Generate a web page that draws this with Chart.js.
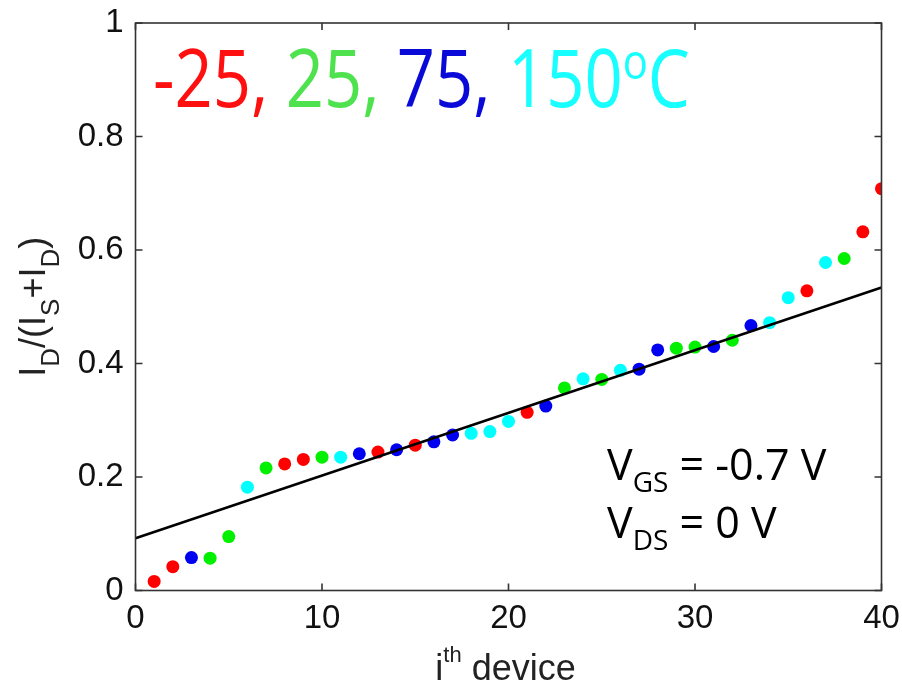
<!DOCTYPE html>
<html><head><meta charset="utf-8">
<script src="https://cdn.jsdelivr.net/npm/chart.js@4/dist/chart.umd.min.js"></script>
<style>html,body{margin:0;padding:0;background:#fff;}#wrap{width:902px;height:684px;position:relative;}</style>
</head><body><div id="wrap"><canvas id="c"></canvas></div>
<script>
// ---- data ----
const deviceIndex = [1,2,3,4,5,6,7,8,9,10,11,12,13,14,15,16,17,18,19,20,21,22,23,24,25,26,27,28,29,30,31,32,33,34,35,36,37,38,39,40];
const ratioValues = [0.016,0.042,0.058,0.057,0.095,0.182,0.216,0.223,0.231,0.235,0.235,0.241,0.244,0.248,0.256,0.262,0.274,0.277,0.280,0.298,0.314,0.325,0.357,0.373,0.372,0.388,0.390,0.424,0.427,0.429,0.430,0.441,0.467,0.472,0.516,0.528,0.578,0.585,0.632,0.708];
const tempGroup = ['-25','-25','75','25','25','150','25','-25','-25','25','150','75','-25','75','-25','75','75','150','150','150','-25','75','25','150','25','150','75','75','25','25','75','25','75','150','150','-25','150','25','-25','-25'];
const temperatures = ['-25','25','75','150'];
const fitX = [0, 40];
const fitY = [0.092, 0.534];
const xTickValues = [0,10,20,30,40];
const yTickValues = [0,0.2,0.4,0.6,0.8,1];

// ---- styles ----
const dotColors = {'-25':'#ff0000','25':'#00f000','75':'#0000f0','150':'#00ffff'};
const textColors = {'-25':'#ff1010','25':'#4ee24e','75':'#0a0ad8','150':'#18ffff'};

const datasets = temperatures.map(t => ({
  type:'scatter',
  label: t,
  data: deviceIndex.map((d,i)=>({x:d,y:ratioValues[i],g:tempGroup[i]})).filter(p=>p.g===t).map(p=>({x:p.x,y:p.y})),
  backgroundColor: dotColors[t],
  borderColor: dotColors[t],
  borderWidth: 0,
  pointRadius: 6.5,
  order: 2
}));
datasets.push({
  type:'line', label:'fit',
  data: fitX.map((x,i)=>({x:x,y:fitY[i]})),
  borderColor:'#000', borderWidth:2.5, pointRadius:0, fill:false, order:1
});

function rich(ctx, segs, x, y, align, family, scaleX) {
  let w = 0;
  segs.forEach(s=>{ctx.font = s.size+'px '+family; s.w = ctx.measureText(s.t).width; w += s.w;});
  scaleX = scaleX || 1;
  let cx = align==='center' ? x - w*scaleX/2 : x;
  ctx.save();
  ctx.translate(cx, y);
  ctx.scale(scaleX,1);
  let px = 0;
  segs.forEach(s=>{
    ctx.font = s.size+'px '+family;
    ctx.fillStyle = s.color || '#000';
    ctx.textBaseline = 'alphabetic';
    ctx.textAlign = 'left';
    ctx.fillText(s.t, px, s.dy||0);
    px += s.w;
  });
  ctx.restore();
  return w;
}

const decor = {
  id:'decor',
  afterDraw(chart){
    const ctx = chart.ctx, a = chart.chartArea;
    const xs = chart.scales.x, ys = chart.scales.y;
    ctx.save();
    ctx.strokeStyle = '#333'; ctx.lineWidth = 1.6;
    ctx.strokeRect(a.left, a.top, a.right-a.left, a.bottom-a.top);
    ctx.beginPath();
    xTickValues.forEach(v=>{
      const p = xs.getPixelForValue(v);
      ctx.moveTo(p,a.bottom); ctx.lineTo(p,a.bottom-7);
      ctx.moveTo(p,a.top); ctx.lineTo(p,a.top+7);
    });
    yTickValues.forEach(v=>{
      const p = ys.getPixelForValue(v);
      ctx.moveTo(a.left,p); ctx.lineTo(a.left+7,p);
      ctx.moveTo(a.right,p); ctx.lineTo(a.right-7,p);
    });
    ctx.stroke();
    ctx.restore();

    const AX = 'Liberation Sans, Arial, sans-serif';
    ctx.save();
    ctx.translate(45, (a.top+a.bottom)/2);
    ctx.rotate(-Math.PI/2);
    rich(ctx, [
      {t:'I',size:36,color:'#222'},{t:'D',size:26,dy:14,color:'#222'},
      {t:'/(I',size:36,color:'#222'},{t:'S',size:26,dy:14,color:'#222'},
      {t:'+I',size:36,color:'#222'},{t:'D',size:26,dy:14,color:'#222'},
      {t:')',size:36,color:'#222'}
    ], 0, 0, 'center', AX);
    ctx.restore();
    rich(ctx, [
      {t:'i',size:36,color:'#222'},{t:'th',size:22,dy:-18,color:'#222'},
      {t:' device',size:36,color:'#222'}
    ], (a.left+a.right)/2 - 3, 680, 'center', AX);

    const AN = 'Open Sans, sans-serif';
    const tsegs = [
      {t:'-25,',size:80,color:textColors['-25']},
      {t:' 25,',size:80,color:textColors['25']},
      {t:' 75,',size:80,color:textColors['75']},
      {t:' 150',size:80,color:textColors['150']},
      {t:'o',size:50,dy:-28,color:textColors['150']},
      {t:'C',size:80,color:textColors['150']}
    ];
    let w = 0; tsegs.forEach(s=>{ctx.font=s.size+'px '+AN; w+=ctx.measureText(s.t).width;});
    rich(ctx, tsegs, 153, 107, 'left', AN, 537/w);
    rich(ctx, [{t:'V',size:43},{t:'GS',size:28,dy:12},{t:' = -0.7 V',size:43}], 607, 480, 'left', AN);
    rich(ctx, [{t:'V',size:43},{t:'DS',size:28,dy:12},{t:' = 0 V',size:43}], 607, 538, 'left', AN);
  }
};

function noPad(s){ s.paddingLeft = 0; s.paddingRight = 0; s.paddingTop = 0; s.paddingBottom = 0; }

new Chart(document.getElementById('c'), {
  data:{datasets},
  options:{
    responsive:true, maintainAspectRatio:false, animation:false,
    layout:{padding:{top:23,right:20.5,left:0,bottom:0}},
    plugins:{legend:{display:false},tooltip:{enabled:false}},
    scales:{
      x:{type:'linear',min:0,max:40,
        afterBuildTicks(s){s.ticks = xTickValues.map(v=>({value:v}));},
        afterFit(s){s.height = 93.5; noPad(s);},
        grid:{display:false,drawTicks:false},border:{display:false},
        ticks:{padding:9,color:'#111',font:{family:'Liberation Sans, Arial, sans-serif',size:33},callback:v=>String(v)}},
      y:{type:'linear',min:0,max:1,
        afterBuildTicks(s){s.ticks = yTickValues.map(v=>({value:v}));},
        afterFit(s){s.width = 135.5; noPad(s);},
        grid:{display:false,drawTicks:false},border:{display:false},
        ticks:{padding:12,color:'#111',font:{family:'Liberation Sans, Arial, sans-serif',size:33},callback:v=>String(Math.round(v*10)/10)}}
    }
  },
  plugins:[decor]
});
</script></body></html>
